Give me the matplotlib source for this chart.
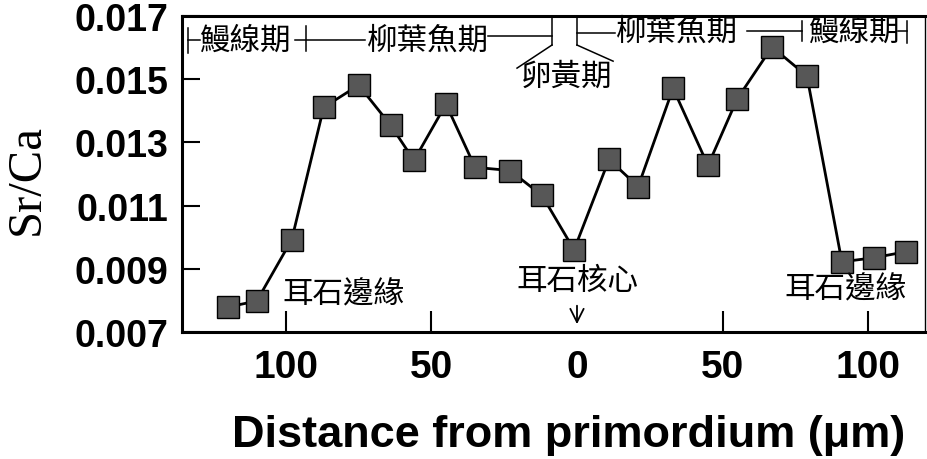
"""
Sr/Ca ratio along otolith transect (eel otolith, edge - core - edge)
"""
import matplotlib
matplotlib.use('Agg')
import matplotlib.pyplot as plt

# Data (distance: negative = left side of core)
dist = [-120, -110, -98, -87, -75, -64, -56, -45, -35, -23, -12, -1,
        11, 21, 33, 45, 55, 67, 79, 91, 102, 113]
srca = [0.00779, 0.00798, 0.00992, 0.01411, 0.01481, 0.01354, 0.01243,
        0.01421, 0.01221, 0.01211, 0.01132, 0.00960, 0.01246, 0.01160,
        0.01471, 0.01227, 0.01437, 0.01602, 0.01510, 0.00922, 0.00935,
        0.00954]

xticks = [-100, -50, 0, 50, 100]
xtick_labels = ['100', '50', '0', '50', '100']
yticks = [0.007, 0.009, 0.011, 0.013, 0.015, 0.017]
ytick_labels = ['0.007', '0.009', '0.011', '0.013', '0.015', '0.017']

stage_eel = '鰻線期'
stage_lepto = '柳葉魚期'
stage_yolk = '卵黃期'
edge_label = '耳石邊緣'
core_label = '耳石核心'

plt.rcParams['font.family'] = ['Liberation Sans', 'DejaVu Sans']
cjk = ['Noto Sans CJK TC', 'DejaVu Sans']

fig = plt.figure(figsize=(9.27, 4.6), dpi=100)
ax = fig.add_axes([0.1963, 0.2761, 0.8017, 0.687])

ax.plot(dist, srca, color='black', lw=2.0, marker='s', markersize=16,
        markerfacecolor='#575757', markeredgecolor='black', markeredgewidth=1.0,
        zorder=3)

ax.set_xlim(-135.7, 119.6)
ax.set_ylim(0.007, 0.017)

ax.set_xticks(xticks)
ax.set_xticklabels(xtick_labels, fontsize=28, fontweight='bold')
ax.set_yticks(yticks)
ax.set_yticklabels(ytick_labels, fontsize=27, fontweight='bold')
ax.tick_params(axis='both', direction='in', width=1.5)
ax.tick_params(axis='x', length=15, pad=12)
ax.tick_params(axis='y', length=13, pad=10)
ax.xaxis.get_major_ticks()[2].tick1line.set_visible(False)

for side in ['left', 'bottom', 'top']:
    ax.spines[side].set_linewidth(2.2)
ax.spines['right'].set_linewidth(1.0)

ax.set_xlabel('Distance from primordium (\u03bcm)', fontsize=32.5,
              fontweight='bold')
ax.xaxis.set_label_coords(0.52, -0.26)
fig.text(27 / 927, 1 - 180 / 460, 'Sr/Ca', rotation=90, ha='center',
         va='center', fontsize=35, family=['Liberation Serif'])

# top stage brackets
lk = dict(color='black', lw=1.1, clip_on=False)
fs = 22
ax.plot([-133.7, -133.7], [0.01662, 0.01583], **lk)
ax.plot([-133.7, -129.6], [0.01624, 0.01624], **lk)
ax.text(-114, 0.01624, stage_eel, ha='center', va='center', fontsize=fs, family=cjk)
ax.plot([-93.1, -93.1], [0.01668, 0.01589], **lk)
ax.plot([-97, -72.9], [0.01624, 0.01624], **lk)
ax.text(-51.2, 0.01624, stage_lepto, ha='center', va='center', fontsize=fs, family=cjk)
ax.plot([-30.6, -8.6], [0.01636, 0.01636], **lk)
ax.plot([-8.6, -8.6], [0.017, 0.01608], **lk)
ax.plot([-8.6, -20.6], [0.01608, 0.01535], **lk)
ax.plot([0, 0], [0.017, 0.01608], **lk)
ax.plot([0, 12.4], [0.01608, 0.01557], **lk)
ax.plot([0, 13.1], [0.01646, 0.01646], **lk)
ax.text(-3.4, 0.01510, stage_yolk, ha='center', va='center', fontsize=fs, family=cjk)
ax.text(34.4, 0.01652, stage_lepto, ha='center', va='center', fontsize=fs, family=cjk)
ax.plot([58.4, 77.3], [0.01652, 0.01652], **lk)
ax.plot([77.3, 77.3], [0.01684, 0.01621], **lk)
ax.text(95.2, 0.01652, stage_eel, ha='center', va='center', fontsize=fs, family=cjk)
ax.plot([110.3, 113.4], [0.01652, 0.01652], **lk)
ax.plot([113.4, 113.4], [0.01684, 0.01614], **lk)

# otolith edge / core labels
ax.text(-80.4, 0.00821, edge_label, ha='center', va='center', fontsize=fs, family=cjk)
ax.text(0, 0.00862, core_label, ha='center', va='center', fontsize=fs, family=cjk)
ax.text(92.1, 0.00837, edge_label, ha='center', va='center', fontsize=fs, family=cjk)
ax.annotate('', xy=(0, 0.00716), xytext=(0, 0.00792),
            arrowprops=dict(arrowstyle='->', color='black', lw=1.3,
                            mutation_scale=24))

fig.savefig('out.png', dpi=100)
print("[OK] saved out.png")
